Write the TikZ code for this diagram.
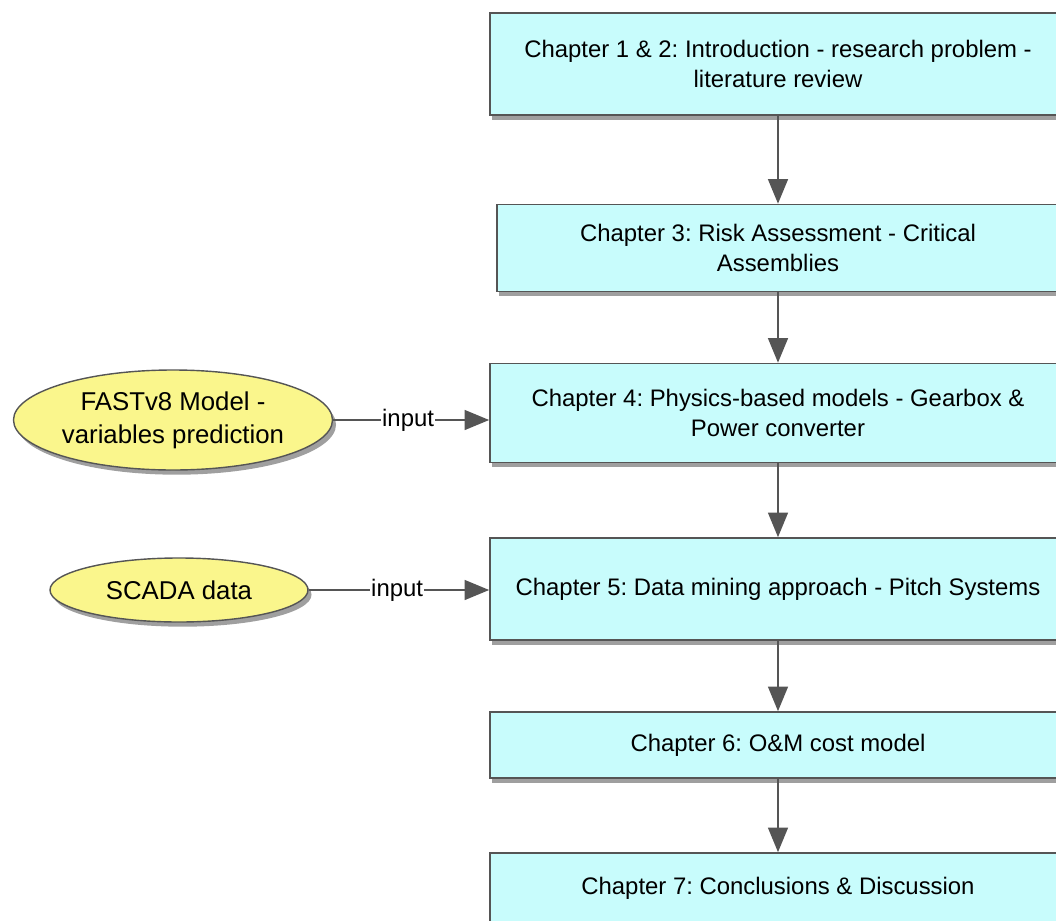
\documentclass[tikz,border=0pt]{standalone}
\usepackage{fontspec}
\setmainfont{Liberation Sans}
\usetikzlibrary{shapes.geometric,shadows,arrows.meta}
\definecolor{chapfill}{HTML}{C8FCFC}
\definecolor{datafill}{HTML}{FAF68C}
\definecolor{edgegray}{HTML}{555555}
\frenchspacing

\begin{document}
\begin{tikzpicture}[x=0.03cm, y=-0.03cm,
  chapter/.style={rectangle, draw=edgegray, line width=1.4pt, fill=chapfill,
    minimum width=17.28cm, align=center, inner sep=0pt,
    font=\fontsize{20.4}{25.5}\selectfont,
    drop shadow={shadow xshift=2pt, shadow yshift=-4pt, fill=gray!75, opacity=1}},
  data/.style={ellipse, draw=edgegray, line width=1.2pt, fill=datafill,
    align=center, inner sep=0pt, font=\fontsize{22}{28}\selectfont,
    drop shadow={shadow xshift=3pt, shadow yshift=-4pt, fill=gray!75, opacity=1}},
  flow/.style={draw=edgegray, line width=1.5pt,
    -{Triangle[length=21pt, width=17pt]}},
  lbl/.style={fill=white, inner sep=1pt, font=\fontsize{20.4}{24}\selectfont}]
  \def\x{778}

  \useasboundingbox (0,0) rectangle (1056,921);

  \node[chapter, minimum height=3.06cm] (CH12) at (\x, 64)
    {Chapter 1 \& 2: Introduction - research problem -\\literature review};
  \node[chapter, minimum height=2.61cm, minimum width=16.86cm] (CH3) at (\x, 248)
    {Chapter 3: Risk Assessment - Critical\\Assemblies};
  \node[chapter, minimum height=2.97cm] (CH4) at (\x, 413)
    {Chapter 4: Physics-based models - Gearbox \&\\Power converter};
  \node[chapter, minimum height=3.06cm] (CH5) at (\x, 589)
    {Chapter 5: Data mining approach - Pitch Systems};
  \node[chapter, minimum height=1.98cm] (CH6) at (\x, 745)
    {Chapter 6: O\&M cost model};
  \node[chapter, minimum height=2.1cm] (CH7) at (\x, 888)
    {Chapter 7: Conclusions \& Discussion};

  \node[data, minimum width=9.57cm, minimum height=3cm] (FAST) at (173, 420)
    {FASTv8 Model -\\variables prediction};
  \node[data, minimum width=7.74cm, minimum height=1.92cm] (SCADA) at (179, 590)
    {SCADA data};

  \draw[flow] (CH12) -- (CH3);
  \draw[flow] (CH3) -- (CH4);
  \draw[flow] (CH4) -- (CH5);
  \draw[flow] (CH5) -- (CH6);
  \draw[flow] (CH6) -- (CH7);

  \draw[flow] (FAST.east) -- node[lbl, pos=0.48] {input} (FAST.east -| CH4.west);
  \draw[flow] (SCADA.east) -- node[lbl, pos=0.49] {input} (SCADA.east -| CH5.west);
\end{tikzpicture}
\end{document}
